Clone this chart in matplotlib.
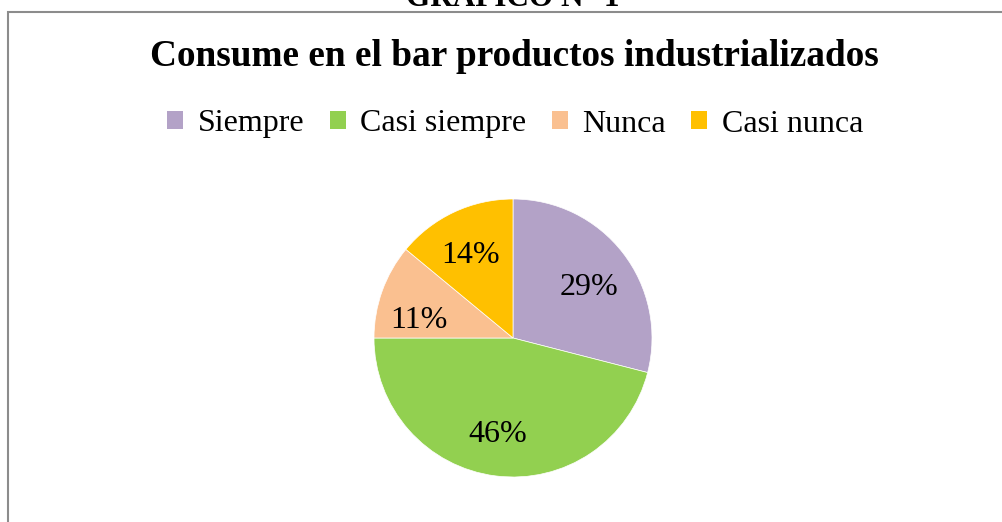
import numpy as np
import matplotlib.pyplot as plt
from matplotlib.patches import Rectangle, Patch
from matplotlib.transforms import offset_copy

# datos del grafico
categorias = ["Siempre", "Casi siempre", "Nunca", "Casi nunca"]
porcentajes = [29, 46, 11, 14]
colores = ["#B3A2C7", "#92D050", "#FAC090", "#FFC000"]
titulo = "Consume en el bar productos industrializados"
encabezado = "GRÁFICO N° 1"

plt.rcParams["font.family"] = ["Liberation Serif", "DejaVu Serif"]

W, H = 1003, 522
fig = plt.figure(figsize=(W / 100, H / 100), dpi=100)

# marco del grafico
fig.patches.append(Rectangle((8 / W, -0.05), 1.1, (H - 12) / H + 0.05,
                             transform=fig.transFigure, fill=False,
                             edgecolor="#8c8c8c", linewidth=1.5))

fig.text(513 / W, 1 - 6 / H, encabezado, ha="center", va="baseline",
         fontsize=22.5, fontweight="bold")
fig.text(514 / W, 1 - 56 / H, titulo, ha="center", va="center",
         fontsize=26.8, fontweight="bold")

# pastel
cx, cy, r = 513, 338, 139
ax = fig.add_axes([(cx - r) / W, (H - cy - r) / H, 2 * r / W, 2 * r / H])
wedges, _ = ax.pie(porcentajes, colors=colores, startangle=90,
                   counterclock=False, radius=1,
                   wedgeprops=dict(edgecolor="white", linewidth=0.5))
ax.set_xlim(-1, 1)
ax.set_ylim(-1, 1)
ax.set_aspect("equal")

# etiquetas de porcentaje (ajuste fino en pixeles, como en Excel)
desfase = [(1, -7), (-3, -3), (-5, -15), (-2, -3)]
for w, p, (dx, dy) in zip(wedges, porcentajes, desfase):
    ang = np.deg2rad((w.theta1 + w.theta2) / 2)
    tr = offset_copy(ax.transData, fig=fig, x=dx, y=dy, units="dots")
    ax.text(0.68 * np.cos(ang), 0.68 * np.sin(ang), f"{p}%", ha="center",
            va="center", fontsize=23, transform=tr)

handles = [Patch(facecolor=c, edgecolor="none") for c in colores]
fig.legend(handles, categorias, loc="center", ncol=4,
           bbox_to_anchor=(515 / W, 1 - 124 / H), frameon=False,
           fontsize=23, handlelength=0.5, handleheight=0.5,
           handletextpad=0.45, columnspacing=0.8, borderpad=0)

fig.savefig("out.png", dpi=100)
